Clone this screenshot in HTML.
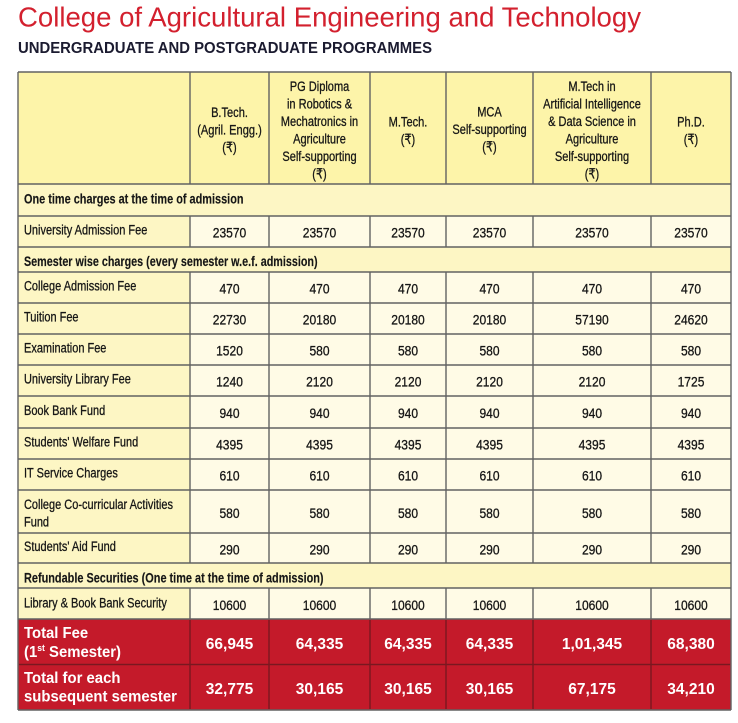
<!DOCTYPE html>
<html><head><meta charset="utf-8"><style>
html,body{margin:0;padding:0;background:#fff;width:738px;height:723px;overflow:hidden}
svg{display:block}
.t{font-family:"Liberation Sans",sans-serif;fill:#161616;font-size:14px;stroke:#161616;stroke-width:0.3}
.c{text-anchor:middle}
.b{font-weight:bold;stroke-width:0.15}
.w{fill:#fff;font-weight:bold;stroke:none}
</style></head><body>
<svg width="738" height="723" viewBox="0 0 738 723" xmlns="http://www.w3.org/2000/svg">
<text x="18" y="26.5" font-family="Liberation Sans, sans-serif" font-size="28" fill="#d3202e" textLength="623" lengthAdjust="spacingAndGlyphs">College of Agricultural Engineering and Technology</text>
<text x="18" y="53" font-family="Liberation Sans, sans-serif" font-size="15.5" font-weight="bold" fill="#1b1b30" textLength="414" lengthAdjust="spacingAndGlyphs">UNDERGRADUATE AND POSTGRADUATE PROGRAMMES</text>

<!-- backgrounds -->
<rect x="18" y="72" width="713" height="112" fill="#fdf4a9"/>
<rect x="18" y="184" width="713" height="32" fill="#fdf6c4"/>
<rect x="18" y="247" width="713" height="25" fill="#fdf6c4"/>
<rect x="18" y="563" width="713" height="25" fill="#fdf6c4"/>
<rect x="18" y="216" width="172" height="31" fill="#fdf6c4"/>
<rect x="18" y="272" width="172" height="291" fill="#fdf6c4"/>
<rect x="18" y="588" width="172" height="31" fill="#fdf6c4"/>
<rect x="190" y="216" width="541" height="31" fill="#fffbe6"/>
<rect x="190" y="272" width="541" height="291" fill="#fffbe6"/>
<rect x="190" y="588" width="541" height="31" fill="#fffbe6"/>
<rect x="18" y="619" width="713" height="91" fill="#c41a2a"/>

<!-- grid lines -->
<g stroke="#626262" stroke-width="1.4" fill="none">
<path d="M18 72H731M18 184H731M18 216H731M18 247H731M18 272H731M18 303H731M18 334H731M18 365H731M18 396H731M18 428H731M18 459H731M18 490H731M18 533H731M18 563H731M18 588H731M18 619H731M18 710H731"/>
<path d="M18 72V710M731 72V710"/>
<path d="M190 72V184M269 72V184M370 72V184M446 72V184M533 72V184M651 72V184"/>
<path d="M190 216V247M269 216V247M370 216V247M446 216V247M533 216V247M651 216V247"/>
<path d="M190 272V563M269 272V563M370 272V563M446 272V563M533 272V563M651 272V563"/>
<path d="M190 588V619M269 588V619M370 588V619M446 588V619M533 588V619M651 588V619"/>
</g>
<g stroke="#7a1820" stroke-width="1.4" fill="none">
<path d="M19 664.5H730"/>
<path d="M190 620V709M269 620V709M370 620V709M446 620V709M533 620V709M651 620V709"/>
</g>

<!-- header -->
<g class="t c">
<text transform="translate(229.5,117) scale(.79,1)">B.Tech.</text>
<text transform="translate(229.5,134.5) scale(.79,1)">(Agril. Engg.)</text>
<text transform="translate(229.5,152) scale(.79,1)">(₹)</text>

<text transform="translate(319.5,91) scale(.79,1)">PG Diploma</text>
<text transform="translate(319.5,108.5) scale(.79,1)">in Robotics &amp;</text>
<text transform="translate(319.5,126) scale(.79,1)">Mechatronics in</text>
<text transform="translate(319.5,143.5) scale(.79,1)">Agriculture</text>
<text transform="translate(319.5,161) scale(.79,1)">Self-supporting</text>
<text transform="translate(319.5,178.5) scale(.79,1)">(₹)</text>

<text transform="translate(408,126.5) scale(.79,1)">M.Tech.</text>
<text transform="translate(408,144) scale(.79,1)">(₹)</text>

<text transform="translate(489.5,116.5) scale(.79,1)">MCA</text>
<text transform="translate(489.5,134) scale(.79,1)">Self-supporting</text>
<text transform="translate(489.5,151.5) scale(.79,1)">(₹)</text>

<text transform="translate(592,91) scale(.79,1)">M.Tech in</text>
<text transform="translate(592,108.5) scale(.79,1)">Artificial Intelligence</text>
<text transform="translate(592,126) scale(.79,1)">&amp; Data Science in</text>
<text transform="translate(592,143.5) scale(.79,1)">Agriculture</text>
<text transform="translate(592,161) scale(.79,1)">Self-supporting</text>
<text transform="translate(592,178.5) scale(.79,1)">(₹)</text>

<text transform="translate(691,126.5) scale(.79,1)">Ph.D.</text>
<text transform="translate(691,144) scale(.79,1)">(₹)</text>
</g>

<!-- section titles -->
<g class="t b">
<text transform="translate(24,203.5) scale(.78,1)">One time charges at the time of admission</text>
<text transform="translate(24,266) scale(.77,1)">Semester wise charges (every semester w.e.f. admission)</text>
<text transform="translate(24,582.5) scale(.78,1)">Refundable Securities (One time at the time of admission)</text>
</g>

<!-- labels -->
<g class="t">
<text transform="translate(24,234.5) scale(.785,1)">University Admission Fee</text>
<text transform="translate(24,290.5) scale(.785,1)">College Admission Fee</text>
<text transform="translate(24,321.5) scale(.785,1)">Tuition Fee</text>
<text transform="translate(24,352.5) scale(.785,1)">Examination Fee</text>
<text transform="translate(24,383.5) scale(.785,1)">University Library Fee</text>
<text transform="translate(24,415) scale(.785,1)">Book Bank Fund</text>
<text transform="translate(24,446.5) scale(.785,1)">Students' Welfare Fund</text>
<text transform="translate(24,477.5) scale(.785,1)">IT Service Charges</text>
<text transform="translate(24,509) scale(.785,1)">College Co-curricular Activities</text>
<text transform="translate(24,526.5) scale(.785,1)">Fund</text>
<text transform="translate(24,551) scale(.785,1)">Students' Aid Fund</text>
<text transform="translate(24,607.5) scale(.785,1)">Library &amp; Book Bank Security</text>
</g>

<!-- data -->
<g class="t c">
<text transform="translate(229.5,237.5) scale(.86,1)">23570</text>
<text transform="translate(319.5,237.5) scale(.86,1)">23570</text>
<text transform="translate(408,237.5) scale(.86,1)">23570</text>
<text transform="translate(489.5,237.5) scale(.86,1)">23570</text>
<text transform="translate(592,237.5) scale(.86,1)">23570</text>
<text transform="translate(691,237.5) scale(.86,1)">23570</text>

<text transform="translate(229.5,293.5) scale(.86,1)">470</text>
<text transform="translate(319.5,293.5) scale(.86,1)">470</text>
<text transform="translate(408,293.5) scale(.86,1)">470</text>
<text transform="translate(489.5,293.5) scale(.86,1)">470</text>
<text transform="translate(592,293.5) scale(.86,1)">470</text>
<text transform="translate(691,293.5) scale(.86,1)">470</text>

<text transform="translate(229.5,324.5) scale(.86,1)">22730</text>
<text transform="translate(319.5,324.5) scale(.86,1)">20180</text>
<text transform="translate(408,324.5) scale(.86,1)">20180</text>
<text transform="translate(489.5,324.5) scale(.86,1)">20180</text>
<text transform="translate(592,324.5) scale(.86,1)">57190</text>
<text transform="translate(691,324.5) scale(.86,1)">24620</text>

<text transform="translate(229.5,355.5) scale(.86,1)">1520</text>
<text transform="translate(319.5,355.5) scale(.86,1)">580</text>
<text transform="translate(408,355.5) scale(.86,1)">580</text>
<text transform="translate(489.5,355.5) scale(.86,1)">580</text>
<text transform="translate(592,355.5) scale(.86,1)">580</text>
<text transform="translate(691,355.5) scale(.86,1)">580</text>

<text transform="translate(229.5,386.5) scale(.86,1)">1240</text>
<text transform="translate(319.5,386.5) scale(.86,1)">2120</text>
<text transform="translate(408,386.5) scale(.86,1)">2120</text>
<text transform="translate(489.5,386.5) scale(.86,1)">2120</text>
<text transform="translate(592,386.5) scale(.86,1)">2120</text>
<text transform="translate(691,386.5) scale(.86,1)">1725</text>

<text transform="translate(229.5,418) scale(.86,1)">940</text>
<text transform="translate(319.5,418) scale(.86,1)">940</text>
<text transform="translate(408,418) scale(.86,1)">940</text>
<text transform="translate(489.5,418) scale(.86,1)">940</text>
<text transform="translate(592,418) scale(.86,1)">940</text>
<text transform="translate(691,418) scale(.86,1)">940</text>

<text transform="translate(229.5,449.5) scale(.86,1)">4395</text>
<text transform="translate(319.5,449.5) scale(.86,1)">4395</text>
<text transform="translate(408,449.5) scale(.86,1)">4395</text>
<text transform="translate(489.5,449.5) scale(.86,1)">4395</text>
<text transform="translate(592,449.5) scale(.86,1)">4395</text>
<text transform="translate(691,449.5) scale(.86,1)">4395</text>

<text transform="translate(229.5,480.5) scale(.86,1)">610</text>
<text transform="translate(319.5,480.5) scale(.86,1)">610</text>
<text transform="translate(408,480.5) scale(.86,1)">610</text>
<text transform="translate(489.5,480.5) scale(.86,1)">610</text>
<text transform="translate(592,480.5) scale(.86,1)">610</text>
<text transform="translate(691,480.5) scale(.86,1)">610</text>

<text transform="translate(229.5,518) scale(.86,1)">580</text>
<text transform="translate(319.5,518) scale(.86,1)">580</text>
<text transform="translate(408,518) scale(.86,1)">580</text>
<text transform="translate(489.5,518) scale(.86,1)">580</text>
<text transform="translate(592,518) scale(.86,1)">580</text>
<text transform="translate(691,518) scale(.86,1)">580</text>

<text transform="translate(229.5,554.5) scale(.86,1)">290</text>
<text transform="translate(319.5,554.5) scale(.86,1)">290</text>
<text transform="translate(408,554.5) scale(.86,1)">290</text>
<text transform="translate(489.5,554.5) scale(.86,1)">290</text>
<text transform="translate(592,554.5) scale(.86,1)">290</text>
<text transform="translate(691,554.5) scale(.86,1)">290</text>

<text transform="translate(229.5,610) scale(.86,1)">10600</text>
<text transform="translate(319.5,610) scale(.86,1)">10600</text>
<text transform="translate(408,610) scale(.86,1)">10600</text>
<text transform="translate(489.5,610) scale(.86,1)">10600</text>
<text transform="translate(592,610) scale(.86,1)">10600</text>
<text transform="translate(691,610) scale(.86,1)">10600</text>
</g>

<!-- totals -->
<g class="t w" style="font-size:15.5px">
<text transform="translate(24,638) scale(.96,1)">Total Fee</text>
<text transform="translate(24,657) scale(.96,1)">(1<tspan font-size="9" dy="-6">st</tspan><tspan dy="6"> Semester)</tspan></text>
<text transform="translate(24,683) scale(.96,1)">Total for each</text>
<text transform="translate(24,701.5) scale(.96,1)">subsequent semester</text>
</g>
<g class="t w c" style="font-size:15.5px">
<text transform="translate(229.5,649)">66,945</text>
<text transform="translate(319.5,649)">64,335</text>
<text transform="translate(408,649)">64,335</text>
<text transform="translate(489.5,649)">64,335</text>
<text transform="translate(592,649)">1,01,345</text>
<text transform="translate(691,649)">68,380</text>

<text transform="translate(229.5,694)">32,775</text>
<text transform="translate(319.5,694)">30,165</text>
<text transform="translate(408,694)">30,165</text>
<text transform="translate(489.5,694)">30,165</text>
<text transform="translate(592,694)">67,175</text>
<text transform="translate(691,694)">34,210</text>
</g>
</svg>
</body></html>
